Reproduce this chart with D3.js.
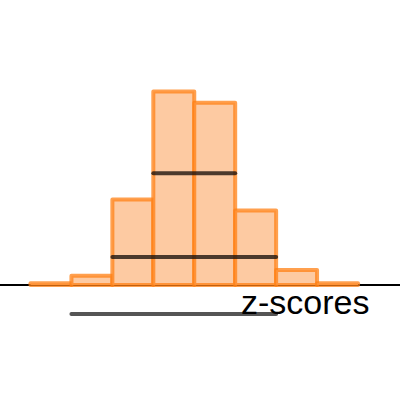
<!DOCTYPE html>
<html>
<head>
<meta charset="utf-8">
<script src="https://cdn.jsdelivr.net/npm/d3@7"></script>
<style>
  body { margin: 0; background: #fff; }
  svg { display: block; }
</style>
</head>
<body>
<svg></svg>
<script>
// histogram of z-scores, one bin per unit
var binEdges = [-4, -3, -2, -1, 0, 1, 2, 3, 4];
var counts = [1, 5, 46, 104, 98, 40, 8, 1];

// horizontal marks across the bars: [from z, to z, count level]
var bands = [
  { x0: -1, x1: 1, level: 60 },
  { x0: -2, x1: 2, level: 15 }
];
var grayRange = [-3, 2];
var axisLabel = "z-scores";

var width = 400;
var height = 400;
var svg = d3.select("svg")
            .attr("width", width)
            .attr("height", height);

var x = d3.scaleLinear()
          .domain([-4, 4])
          .range([30.5, 358]);

var y = d3.scaleLinear()
          .domain([0, 104])
          .range([285, 91.5]);

var bins = counts.map((c, i) => ({ x0: binEdges[i], x1: binEdges[i + 1], count: c }));

// baseline
svg.append("line")
   .attr("x1", 0)
   .attr("x2", width)
   .attr("y1", y(0))
   .attr("y2", y(0))
   .attr("stroke", "#000")
   .attr("stroke-width", 2);

svg.append("g")
   .selectAll("rect")
   .data(bins)
   .enter()
   .append("rect")
     .attr("x", d => x(d.x0))
     .attr("y", d => y(d.count))
     .attr("width", d => x(d.x1) - x(d.x0))
     .attr("height", d => y(0) - y(d.count))
     .attr("fill", "#fdcaa2")
     .attr("stroke", "rgba(255,128,20,0.75)")
     .attr("stroke-width", 4)
     .attr("stroke-linejoin", "round");

svg.append("g")
   .selectAll("line")
   .data(bands)
   .enter()
   .append("line")
     .attr("x1", d => x(d.x0))
     .attr("x2", d => x(d.x1))
     .attr("y1", d => y(d.level))
     .attr("y2", d => y(d.level))
     .attr("stroke", "rgba(30,20,15,0.8)")
     .attr("stroke-width", 4)
     .attr("stroke-linecap", "round");

svg.append("line")
   .attr("x1", x(grayRange[0]))
   .attr("x2", x(grayRange[1]))
   .attr("y1", 314)
   .attr("y2", 314)
   .attr("stroke", "#555")
   .attr("stroke-width", 4)
   .attr("stroke-linecap", "round");

svg.append("text")
   .attr("x", 241)
   .attr("y", 314)
   .attr("font-family", "Liberation Sans, Arial, sans-serif")
   .attr("font-size", 34)
   .attr("fill", "#000")
   .text(axisLabel);
</script>
</body>
</html>
